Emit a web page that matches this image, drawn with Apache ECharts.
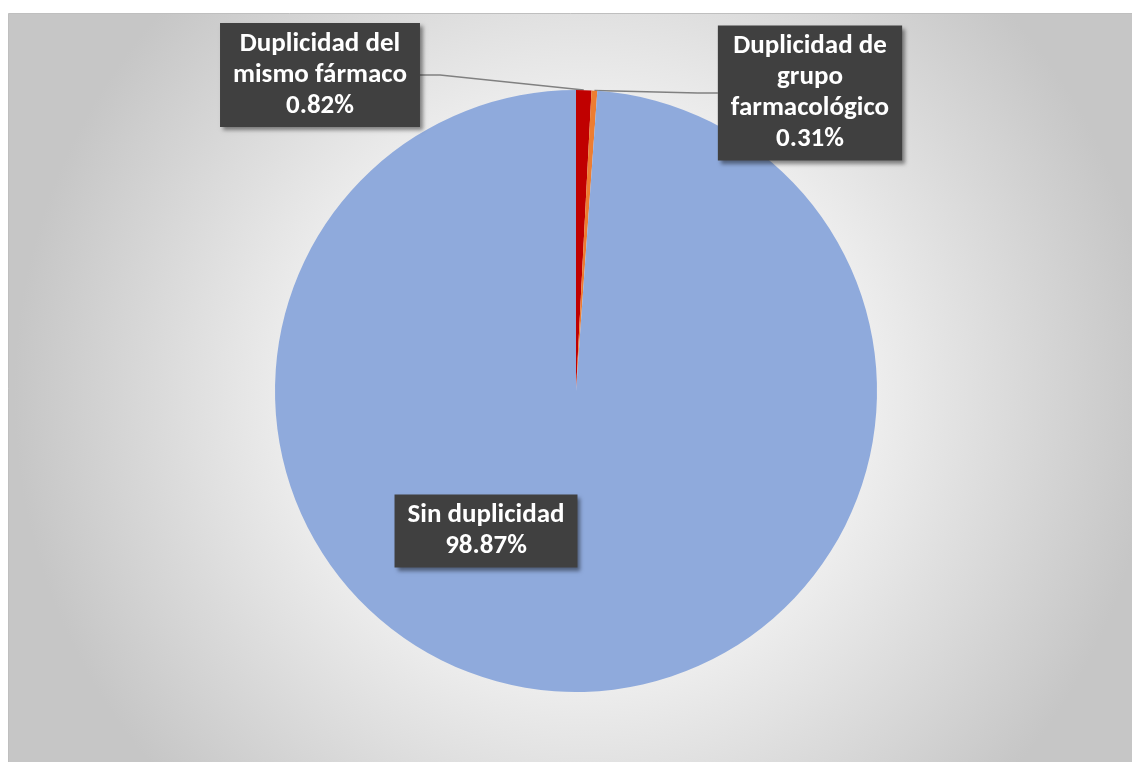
<!DOCTYPE html>
<html>
<head>
<meta charset="utf-8">
<script src="https://cdn.jsdelivr.net/npm/echarts@6/dist/echarts.min.js"></script>
<style>
  html, body { margin: 0; padding: 0; background: #fff; }
  #chart { width: 1132px; height: 762px; }
</style>
</head>
<body>
<div id="chart"></div>
<script>
// categories and values (percent)
const categories = ["Duplicidad del\nmismo fármaco", "Duplicidad de\ngrupo\nfarmacológico", "Sin duplicidad"]
const values = [0.82, 0.31, 98.87]
const colors = ["#c00000", "#ed7d31", "#8faadc"]

// where the label boxes sit (centre points)
const labelSpots = [[320, 75], [810, 93], [486, 531]]

const myChart = echarts.init(document.getElementById("chart"))

const option = {
  animation: false,
  graphic: [
    {
      type: "rect",
      shape: { x: 8.5, y: 13.5, width: 1130, height: 760 },
      style: {
        stroke: "#bfbfbf",
        lineWidth: 1,
        fill: {
          type: "radial",
          x: 0.51, y: 0.5, r: 0.75,
          colorStops: [
            { offset: 0, color: "#ffffff" },
            { offset: 0.45, color: "#f2f2f2" },
            { offset: 1, color: "#c6c6c6" }
          ]
        }
      },
      z: -10
    }
  ],
  series: [
    {
      type: "pie",
      center: [576, 391],
      radius: [0, 301],
      startAngle: 90,
      clockwise: true,
      data: categories.map((name, i) => ({
        name: name,
        value: values[i],
        itemStyle: { color: colors[i] },
        labelLine: { show: i < 2 }
      })),
      label: {
        show: true,
        formatter: "{b}\n{d}%",
        color: "#ffffff",
        fontFamily: "Carlito, Calibri, Lato, sans-serif",
        fontWeight: "bold",
        fontSize: 27,
        lineHeight: 31,
        align: "center",
        backgroundColor: "#404040",
        padding: [6, 13, 5, 13],
        shadowColor: "rgba(0,0,0,0.45)",
        shadowBlur: 4,
        shadowOffsetX: 3,
        shadowOffsetY: 3
      },
      labelLine: {
        show: true,
        length: 20,
        length2: 20,
        lineStyle: { color: "#808080", width: 1.5 }
      },
      labelLayout: function (params) {
        const p = labelSpots[params.dataIndex]
        return {
          x: p[0],
          y: p[1],
          align: "center",
          verticalAlign: "middle"
        }
      }
    }
  ]
}

myChart.setOption(option)

window.onresize = () => {
  myChart.resize()
}
</script>
</body>
</html>
